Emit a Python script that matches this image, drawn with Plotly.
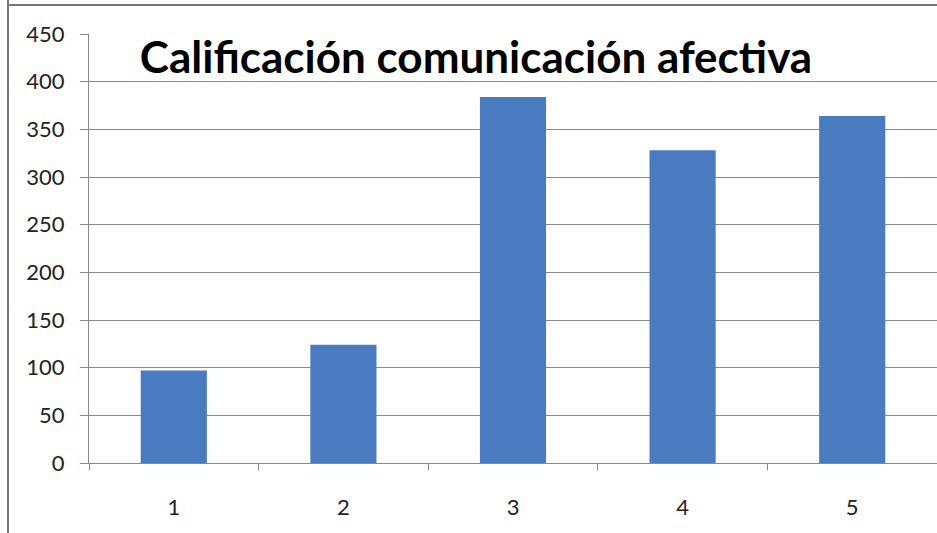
import plotly.graph_objects as go

categories = ["1", "2", "3", "4", "5"]
values = [97, 124, 384, 328, 364]
y_ticks = [0, 50, 100, 150, 200, 250, 300, 350, 400, 450]
title_text = "Calificación comunicación afectiva"

W, H = 937, 533
ML, MR, MT, MB = 89, 0, 34, 70
pw = W - ML - MR
ph = H - MT - MB

def px_to_paper_x(px):
    return (px - ML) / pw

def px_to_paper_y(py):
    return (H - MB - py) / ph

fig = go.Figure()
fig.add_trace(go.Bar(
    x=categories, y=values,
    marker=dict(color="#4a7bc0", line=dict(width=0)),
    width=0.39,
))

fig.update_layout(
    width=W, height=H,
    margin=dict(l=ML, r=MR, t=MT, b=MB, pad=0),
    paper_bgcolor="white", plot_bgcolor="white",
    showlegend=False,
    font=dict(family="Lato, 'Open Sans', sans-serif", size=22, color="#222"),
    title=dict(
        text="<b>" + title_text + "</b>",
        x=476 / W, xanchor="center",
        y=1 - 58 / H, yanchor="middle",
        font=dict(family="Lato, 'Open Sans', sans-serif", size=44, color="#000"),
    ),
    xaxis=dict(
        type="category", range=[-0.5, 4.5],
        showline=True, linecolor="#888", linewidth=1,
        ticks="outside", tickson="boundaries", ticklen=6, tickcolor="#888",
        showgrid=False, zeroline=False,
        tickfont=dict(size=22, color="#222"),
        ticklabelstandoff=25,
    ),
    yaxis=dict(
        range=[0, 450], tickvals=y_ticks,
        showline=True, linecolor="#888", linewidth=1,
        ticks="outside", ticklen=8, tickcolor="#888",
        showgrid=True, gridcolor="#8a8a8a", gridwidth=1,
        zeroline=False,
        tickfont=dict(size=22, color="#222"),
        ticklabelstandoff=11,
    ),
    shapes=[
        dict(type="line", xref="paper", yref="paper",
             x0=px_to_paper_x(8), x1=px_to_paper_x(8),
             y0=px_to_paper_y(0), y1=px_to_paper_y(H),
             line=dict(color="#777", width=2)),
        dict(type="line", xref="paper", yref="paper",
             x0=px_to_paper_x(8), x1=px_to_paper_x(W + 5),
             y0=px_to_paper_y(5), y1=px_to_paper_y(5),
             line=dict(color="#777", width=2)),
    ],
)

fig.write_html("out.html", config={"displayModeBar": False},
               post_script="document.body.style.margin='0';")
